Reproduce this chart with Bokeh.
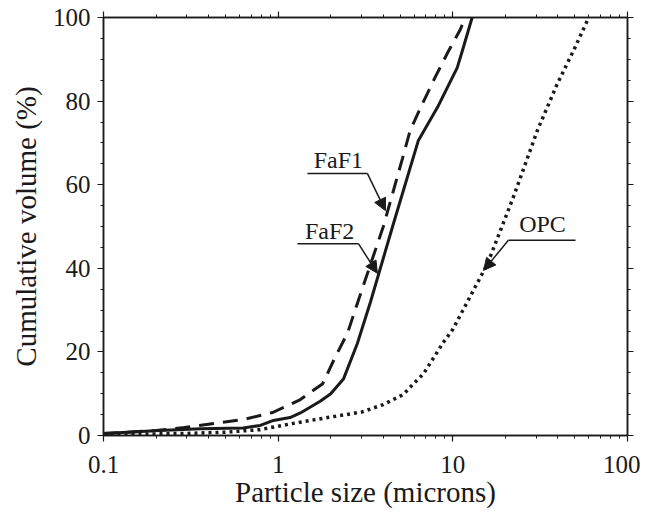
from bokeh.plotting import figure
from bokeh.models import (LogAxis, LinearAxis, FixedTicker, SingleIntervalTicker,
                          NumeralTickFormatter, CustomJSTickFormatter, Arrow, NormalHead, Label)
from bokeh.embed import file_html
from bokeh.resources import INLINE

# ---- data ----
faf1_x = [0.1, 0.13, 0.2, 0.29, 0.43, 0.63, 0.93, 1.34, 1.8, 2.08, 2.5, 2.84, 4.0, 5.15, 5.7, 6.7, 7.9, 9.45, 11.0, 11.8]
faf1_y = [0.5, 0.7, 1.2, 1.9, 2.9, 3.8, 5.5, 8.6, 12.4, 18, 24.6, 31.6, 50, 66.3, 73, 79.4, 85.6, 92, 97, 100]

faf2_x = [0.1, 0.21, 0.36, 0.63, 0.79, 0.94, 1.17, 1.34, 1.74, 2.0, 2.37, 2.84, 3.38, 4.52, 6.35, 8.17, 10.6, 11.35, 12.9]
faf2_y = [0.5, 1.2, 1.6, 1.8, 2.4, 3.6, 4.3, 5.4, 8.2, 10, 13.6, 22, 32, 50, 70.6, 78.5, 88, 92.1, 100]

opc_x = [0.1, 0.3, 0.5, 0.79, 1.22, 1.92, 3.0, 4.0, 5.2, 5.9, 6.8, 7.9, 8.8, 10.0, 11.4, 15.8, 22.2, 30.5, 39.7, 49, 60]
opc_y = [0.2, 0.5, 0.8, 1.4, 2.9, 4.3, 5.6, 7.4, 9.8, 12.2, 14.8, 19.1, 22.2, 25.4, 29.9, 41.1, 57, 73, 84.2, 92, 100]

x_ticks = [0.1, 1, 10, 100]
y_ticks = [0, 20, 40, 60, 80, 100]

ann_text = ["FaF1", "FaF2", "OPC"]
ann_text_x = [2.21, 1.97, 32.6]
ann_text_y = [66.0, 49.0, 50.5]
ann_start_x = [1.47, 1.29, 50.4]
ann_start_y = [62.7, 45.9, 46.7]
ann_corner_x = [3.24, 2.88, 20.8]
ann_corner_y = [62.7, 45.9, 46.7]
ann_tip_x = [4.11, 3.70, 15.0]
ann_tip_y = [53.8, 38.8, 39.5]

FONT = "Liberation Serif"
INK = "#1a1a1a"

p = figure(width=640, height=512, x_axis_type="log", x_range=(0.1, 100), y_range=(0, 100),
           output_backend="svg", toolbar_location=None,
           min_border_left=103, min_border_right=13, min_border_top=17, min_border_bottom=77)
p.grid.visible = False
p.outline_line_color = INK
p.outline_line_width = 1.5
p.background_fill_color = "white"
p.border_fill_color = "white"

minor_x = [m * d for d in (0.1, 1, 10) for m in range(2, 10)]

def style_axis(ax, show_labels):
    ax.axis_line_color = INK
    ax.axis_line_width = 1.5
    ax.major_tick_line_color = INK
    ax.minor_tick_line_color = INK
    ax.major_tick_line_width = 1.2
    ax.minor_tick_line_width = 1
    ax.major_tick_out = 6
    ax.major_tick_in = 0
    ax.minor_tick_out = 3
    ax.minor_tick_in = 0
    ax.major_label_text_font = FONT
    ax.major_label_text_color = INK
    ax.axis_label_text_font = FONT
    ax.axis_label_text_color = INK
    ax.axis_label_text_font_style = "normal"
    if not show_labels:
        ax.formatter = CustomJSTickFormatter(code="return '';")
        ax.major_label_text_font_size = "1px"
        ax.major_label_standoff = 0

# bottom x axis
xa = p.xaxis[0]
xa.ticker = FixedTicker(ticks=x_ticks, minor_ticks=minor_x)
xa.formatter = NumeralTickFormatter(format="0.[0]")
style_axis(xa, True)
xa.major_label_text_font_size = "25px"
xa.major_label_standoff = 14
xa.axis_label = "Particle size (microns)"
xa.axis_label_text_font_size = "29px"
xa.axis_label_standoff = 0

# left y axis
ya = p.yaxis[0]
ya.ticker = SingleIntervalTicker(interval=20, num_minor_ticks=4)
style_axis(ya, True)
ya.major_label_text_font_size = "25px"
ya.major_label_standoff = 7
ya.axis_label = "Cumulative volume (%)"
ya.axis_label_text_font_size = "29px"
ya.axis_label_standoff = 8

# mirrored top / right axes without labels
top = LogAxis(ticker=FixedTicker(ticks=x_ticks, minor_ticks=minor_x))
style_axis(top, False)
p.add_layout(top, "above")
right = LinearAxis(ticker=SingleIntervalTicker(interval=20, num_minor_ticks=4))
style_axis(right, False)
p.add_layout(right, "right")

# curves
p.line(faf1_x, faf1_y, line_color=INK, line_width=3, line_dash="15 9")
p.line(faf2_x, faf2_y, line_color=INK, line_width=3)
p.line(opc_x, opc_y, line_color=INK, line_width=3.5, line_dash="3 4")

# annotations
p.segment(x0=ann_start_x, y0=ann_start_y, x1=ann_corner_x, y1=ann_corner_y,
          line_color=INK, line_width=1.5)
for i in range(len(ann_text)):
    p.add_layout(Arrow(x_start=ann_corner_x[i], y_start=ann_corner_y[i],
                       x_end=ann_tip_x[i], y_end=ann_tip_y[i],
                       line_color=INK, line_width=1.5,
                       end=NormalHead(size=12, fill_color=INK, line_color=INK)))
    p.add_layout(Label(x=ann_text_x[i], y=ann_text_y[i], text=ann_text[i],
                       text_font=FONT, text_font_size="24px", text_color=INK,
                       text_align="center", text_baseline="middle"))

open("out.html", "w").write(file_html(p, INLINE))
